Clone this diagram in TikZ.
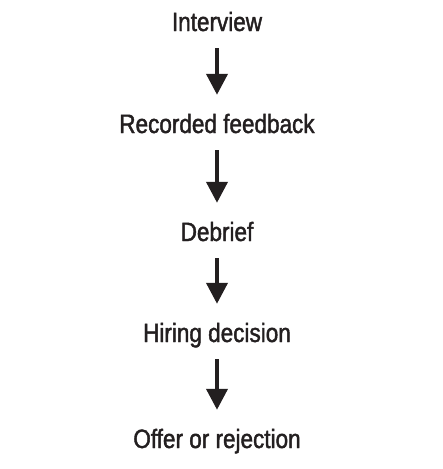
\documentclass[tikz,border=0pt]{standalone}
\usepackage{fontspec}
\setmainfont[FakeStretch=0.85,FakeBold=1.6]{Liberation Sans}
\usepackage{tikz}
\usetikzlibrary{arrows.meta}
\definecolor{ink}{HTML}{231F20}
\tikzstyle{stage}=[inner sep=0pt, anchor=base
,text height=19pt, text depth=6pt
,text=ink, font=\fontsize{26.5}{30}\selectfont
]
\tikzstyle{flow} = [draw=ink, line width=4pt, -{Triangle[width=21pt,length=21pt]}, shorten <=11pt, shorten >=19pt]

\begin{document}
\begin{tikzpicture}[x=1pt,y=1pt]
    \useasboundingbox (0,0) rectangle (443,-469);
    % First we place the stages
    \foreach \pos/\name/\txt in {{(217,-31)/iv/Interview}, {(217,-133)/fb/Recorded feedback}, {(217,-241)/db/Debrief}, {(217,-342)/hd/Hiring decision}, {(217,-448)/or/Offer or rejection}}
        \node[stage] (\name) at \pos {\txt};

    % Connect stages with arrows
    \foreach \source/ \dest in {iv/fb, fb/db, db/hd, hd/or}
        \path[flow] (\source) -- (\dest) ;

\end{tikzpicture}
\end{document}
